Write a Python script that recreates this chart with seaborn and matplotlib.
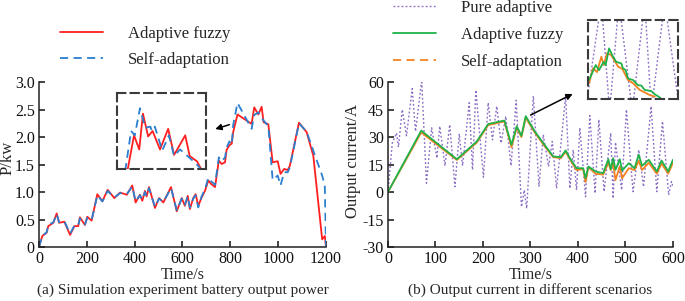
import matplotlib
matplotlib.use("Agg")
import matplotlib.pyplot as plt
import seaborn as sns
from matplotlib.lines import Line2D

# (a) battery output power, kW
power_t = [0, 14, 32, 39, 60, 74, 84, 106, 130, 148, 164, 171, 192, 202, 220, 244, 265, 287, 315, 339,
           367, 390, 404, 422, 432, 443, 450, 460, 485, 502, 520, 552, 576, 597, 610, 622, 631, 645, 655, 666,
           680, 694, 708, 719, 736, 752, 764, 778, 784, 796, 806, 812, 830, 889, 900, 917, 931, 939, 959, 977,
           998, 1010, 1025, 1040, 1049, 1087, 1119, 1147, 1184, 1195, 1200]
fuzzy_power = [0, 0.20, 0.26, 0.38, 0.44, 0.61, 0.44, 0.46, 0.22, 0.38, 0.38, 0.54, 0.40, 0.55, 0.48, 0.96, 0.83, 1.04, 0.89, 0.99,
               0.95, 1.12, 0.81, 0.95, 0.84, 1.02, 0.92, 1.09, 0.71, 0.89, 0.81, 1.09, 0.65, 0.89, 0.75, 0.93, 0.69, 0.89, 0.96, 0.75,
               0.90, 1.02, 1.21, 1.15, 1.09, 1.57, 1.51, 1.54, 1.76, 1.85, 1.88, 2.09, 2.41, 2.24, 2.54, 2.41, 2.55, 2.27, 2.23, 1.54,
               1.56, 1.33, 1.42, 1.40, 1.48, 2.26, 2.09, 1.66, 0.14, 0.20, 0.0]
self_power = [0, 0.20, 0.27, 0.40, 0.45, 0.60, 0.45, 0.47, 0.24, 0.39, 0.39, 0.52, 0.41, 0.53, 0.49, 0.94, 0.83, 1.02, 0.90, 0.98,
              0.96, 1.10, 0.83, 0.94, 0.86, 1.00, 0.93, 1.07, 0.73, 0.88, 0.82, 1.07, 0.67, 0.88, 0.77, 0.92, 0.72, 0.88, 0.94, 0.72,
              0.92, 1.05, 1.26, 1.20, 1.13, 1.63, 1.56, 1.63, 1.80, 1.92, 1.86, 2.22, 2.62, 2.15, 2.40, 2.45, 2.35, 2.30, 2.20, 1.22,
              1.30, 1.12, 1.36, 1.36, 1.45, 2.25, 2.10, 1.75, 1.30, 1.12, 0.0]

# zoomed view of (a)
zoom_fuzzy_t = [834, 843, 850, 855, 862, 868, 878, 889, 897, 912, 918, 928, 935]
zoom_fuzzy_p = [1.88, 2.21, 2.08, 2.41, 2.20, 2.25, 2.08, 2.27, 2.03, 2.21, 2.02, 1.97, 1.88]
zoom_self_t = [831, 839, 844, 851, 858, 865, 867, 871, 881, 890, 897, 905, 925, 932]
zoom_self_p = [1.88, 2.25, 2.21, 2.46, 2.28, 2.29, 2.25, 2.29, 2.07, 2.21, 2.02, 2.08, 1.96, 1.91]

# (b) output current, A
current_t = [0, 70, 145, 187, 211, 245, 260, 271, 281, 290, 309, 327, 348, 364, 374, 385, 397, 411, 416, 422,
             437, 453, 464, 469, 474, 479, 488, 493, 507, 519, 528, 535, 549, 566, 576, 590, 600]
fuzzy_current = [0, 33.5, 17.9, 27.6, 37.1, 39.0, 25.8, 35.9, 30.7, 41.4, 33.1, 26.7, 19.4, 19.0, 22.7, 17.6, 13.0, 13.0, 7.5, 13.9,
                 11.2, 10.3, 17.9, 12.4, 18.5, 12.1, 17.9, 11.7, 15.7, 13.0, 20.3, 14.3, 17.6, 11.2, 17.2, 11.2, 17.6]
self_current = [0, 32.5, 17.5, 27.0, 36.5, 38.5, 24.5, 35.0, 30.0, 40.5, 32.5, 26.0, 19.0, 18.5, 22.0, 17.0, 12.0, 12.5, 5.5, 13.5,
                10.0, 9.5, 16.0, 12.0, 16.0, 6.5, 14.0, 7.5, 13.0, 12.0, 17.0, 12.0, 16.0, 10.0, 15.5, 10.0, 16.0]
pure_t = [0, 9, 18, 22, 30, 39, 51, 58, 71, 81, 92, 103, 109, 120, 130, 141, 150, 157, 171, 178,
          185, 201, 211, 220, 229, 238, 248, 259, 270, 281, 287, 292, 306, 318, 327, 338, 346, 355, 374, 383,
          390, 397, 404, 416, 425, 436, 444, 455, 469, 474, 479, 492, 502, 516, 528, 538, 554, 566, 578, 591, 597, 600]
pure_current = [0, 26.7, 32.2, 24.5, 45.0, 30.7, 56.4, 33.1, 61.0, 4.8, 35.0, 18.5, 35.9, 14.3, 36.8, 2.9, 31.8, 14.3, 48.7, 12.1,
                55.6, 8.1, 48.7, 28.5, 46.8, 26.7, 41.3, 14.3, 50.0, -8.1, 1.1, -9.0, 52.3, 2.9, 31.3, 13.9, 27.6, 2.0, 52.3, 2.0,
                23.0, 1.1, 35.0, -2.6, 41.7, -0.7, 39.5, 0.2, 32.2, -3.5, 27.1, 1.1, 45.0, 0.2, 23.0, 2.9, 46.8, 0.2, 38.6, -1.6, 5.7, 3.0]

# zoomed view of (b)
zoom_fuzzy_it = [285.6, 289.3, 291.1, 293.7, 294.8, 296.7, 298.9, 300.7, 303.5, 304.4, 305.9, 307.2, 310, 312.8, 314.6, 316.5, 320.2, 322.1, 325.2]
zoom_fuzzy_i = [29.8, 33.6, 32.3, 34.4, 33.6, 37.8, 35.7, 34.4, 34.0, 32.8, 32.3, 30.2, 29.8, 28.5, 28.4, 27.3, 27.0, 26.2, 25.3]
zoom_self_it = [285.6, 287.8, 290, 292.4, 293.7, 295.6, 297.9, 301.7, 304.1, 307.2, 310, 313.7, 315.9, 319.3, 322.1]
zoom_self_i = [29.0, 32.8, 31.8, 35.7, 33.6, 36.6, 36.1, 33.2, 32.6, 29.8, 29.0, 27.3, 26.8, 26.0, 25.6]
zoom_pure_it = [283.2, 292.4, 297.0, 302.2, 309.6, 316.5, 320.2, 327.6, 336]
zoom_pure_i = [20.9, 49.6, 21.8, 49.6, 21.8, 49.6, 22.2, 49.6, 21.8]

power_ticks = [0, 0.5, 1.0, 1.5, 2.0, 2.5, 3.0]
power_labels = ["0", "0.5", "1.0", "1.5", "2.0", "2.5", "3.0"]
current_ticks = [-30, -15, 0, 15, 30, 45, 60]

RED = "#ff1f1f"
BLUE = "#2a7fd0"
GREEN = "#1fb24a"
ORANGE = "#f5821f"
PURPLE = "#8a6cc4"
DASH = (0, (4.5, 3))
DOT = (0, (1.3, 1.6))

sns.set_style("ticks")
plt.rcParams["font.family"] = ["Liberation Serif", "DejaVu Serif"]
plt.rcParams["font.size"] = 11
plt.rcParams["axes.unicode_minus"] = False

fig = plt.figure(figsize=(6.85, 3.01), dpi=100)
ax1 = fig.add_axes([0.0569, 0.1794, 0.419, 0.548])
ax2 = fig.add_axes([0.5664, 0.1794, 0.416, 0.548])


def line(ax, x, y, color, ls="-", lw=1.3):
    sns.lineplot(x=x, y=y, ax=ax, color=color, linestyle=ls, linewidth=lw,
                 estimator=None, sort=False, legend=False)


def style_axes(ax):
    for s in ["top", "right"]:
        ax.spines[s].set_visible(False)
    for s in ["left", "bottom"]:
        ax.spines[s].set_linewidth(1.1)
        ax.spines[s].set_color("#222222")
    ax.tick_params(direction="in", length=4, width=1.1, labelsize=11.5, pad=3, colors="#111111")
    ax.set_xlabel("Time/s", fontsize=11.5, labelpad=0)


def zoom_box(rect):
    ins = fig.add_axes(rect)
    ins.patch.set_alpha(0)
    ins.set_xticks([])
    ins.set_yticks([])
    for s in ins.spines.values():
        s.set_visible(True)
        s.set_linestyle((0, (4, 2.5)))
        s.set_linewidth(1.5)
        s.set_edgecolor("#3a3a3a")
    return ins


# ---- (a)
line(ax1, power_t, fuzzy_power, RED)
line(ax1, power_t, self_power, BLUE, DASH)
ax1.set_xlim(0, 1200)
ax1.set_ylim(0, 3.0)
ax1.set_xticks(range(0, 1201, 200))
ax1.set_yticks(power_ticks, power_labels)
style_axes(ax1)
ax1.set_ylabel("P/kw", fontsize=12)
ax1.yaxis.set_label_coords(-0.08, 0.54)
ax1.annotate("", xy=(726, 2.13), xytext=(807, 2.24),
             arrowprops=dict(arrowstyle="-|>", color="black", lw=1.1, mutation_scale=9))

ins1 = zoom_box([0.1708, 0.4385, 0.1299, 0.2525])
line(ins1, zoom_fuzzy_t, zoom_fuzzy_p, RED)
line(ins1, zoom_self_t, zoom_self_p, BLUE, DASH)
ins1.set_xlim(820, 940)
ins1.set_ylim(1.9, 2.6)
ins1.set_xlabel("")
ins1.set_ylabel("")

# ---- (b)
line(ax2, pure_t, pure_current, PURPLE, DOT, 1.0)
line(ax2, current_t, self_current, ORANGE)
line(ax2, current_t, fuzzy_current, GREEN)
ax2.set_xlim(0, 600)
ax2.set_ylim(-30, 60)
ax2.set_xticks(range(0, 601, 100))
ax2.set_yticks(current_ticks)
style_axes(ax2)
ax2.set_ylabel("Output current/A", fontsize=12)
ax2.yaxis.set_label_coords(-0.095, 0.52)
ax2.annotate("", xy=(394, 54.2), xytext=(295, 41.3),
             arrowprops=dict(arrowstyle="-|>", color="black", lw=1.1, mutation_scale=9))

ins2 = zoom_box([0.8584, 0.6711, 0.1314, 0.2625])
line(ins2, zoom_pure_it, zoom_pure_i, PURPLE, DOT, 1.0)
line(ins2, zoom_self_it, zoom_self_i, ORANGE)
line(ins2, zoom_fuzzy_it, zoom_fuzzy_i, GREEN)
ins2.set_xlim(285, 335)
ins2.set_ylim(25, 45)
ins2.set_xlabel("")
ins2.set_ylabel("")

# ---- legends
h1 = [Line2D([], [], color=RED, lw=1.3),
      Line2D([], [], color=BLUE, lw=1.3, linestyle=DASH)]
fig.legend(h1, ["Adaptive fuzzy", "Self-adaptation"], loc="upper left",
           bbox_to_anchor=(0.0876, 0.913), frameon=False, fontsize=12,
           handlelength=2.57, handletextpad=1.5, labelspacing=0.56,
           borderpad=0, borderaxespad=0)
h2 = [Line2D([], [], color=PURPLE, lw=1.0, linestyle=DOT),
      Line2D([], [], color=GREEN, lw=1.3),
      Line2D([], [], color=ORANGE, lw=1.3, linestyle=DASH)]
fig.legend(h2, ["Pure adaptive", "Adaptive fuzzy", "Self-adaptation"], loc="upper left",
           bbox_to_anchor=(0.5737, 1.0), frameon=False, fontsize=12,
           handlelength=2.57, handletextpad=1.5, labelspacing=0.66,
           borderpad=0, borderaxespad=0)

# ---- captions
fig.text(0.0569 + 0.419 / 2, 0.037, "(a) Simulation experiment battery output power",
         ha="center", va="center", fontsize=11)
fig.text(0.5664 + 0.416 / 2, 0.037, "(b) Output current in different scenarios",
         ha="center", va="center", fontsize=11)

fig.savefig("out.png", dpi=100)
